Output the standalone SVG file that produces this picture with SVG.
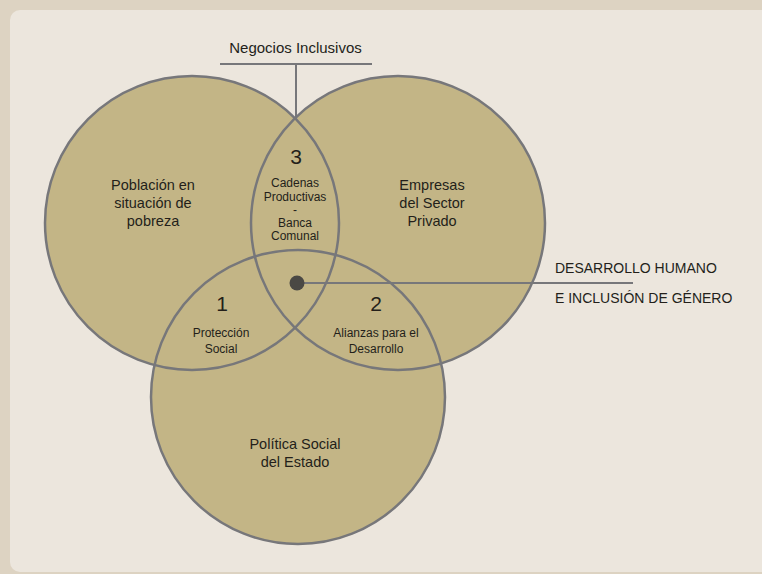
<svg xmlns="http://www.w3.org/2000/svg" width="762" height="574" viewBox="0 0 762 574">
<style>
.t{font-family:"Liberation Sans",Arial,sans-serif;fill:#231f1a;text-anchor:middle}
.big{font-size:14.5px}
.num{font-size:21px}
.sm{font-size:12px}
.ring{fill:none;stroke:#77777a;stroke-width:2.5}
.fill{fill:#c3b586}
.ln{stroke:#77777a;stroke-width:2;fill:none}
</style>
<rect x="0" y="0" width="762" height="574" fill="#ddd3c2"/>
<rect x="10" y="10" width="770" height="562" rx="10" fill="#ece6dd"/>
<g id="fills">
<circle class="fill" cx="192" cy="223" r="147"/>
<circle class="fill" cx="398" cy="223" r="147"/>
<circle class="fill" cx="298" cy="397" r="147"/>
</g>
<g id="node-pobreza">
<circle class="ring" cx="192" cy="223" r="147"/>
<text class="t big" x="153" y="190">Población en</text>
<text class="t big" x="153" y="208">situación de</text>
<text class="t big" x="153" y="226">pobreza</text>
</g>
<g id="node-privado">
<circle class="ring" cx="398" cy="223" r="147"/>
<text class="t big" x="432" y="190">Empresas</text>
<text class="t big" x="432" y="208">del Sector</text>
<text class="t big" x="432" y="226">Privado</text>
</g>
<g id="node-estado">
<circle class="ring" cx="298" cy="397" r="147"/>
<text class="t big" x="295" y="449">Política Social</text>
<text class="t big" x="295" y="467">del Estado</text>
</g>
<g id="intersection-3">
<text class="t num" x="296" y="164">3</text>
<text class="t sm" x="295" y="187">Cadenas</text>
<text class="t sm" x="295" y="200.5">Productivas</text>
<text class="t sm" x="295" y="213.5">-</text>
<text class="t sm" x="295" y="226.5">Banca</text>
<text class="t sm" x="295" y="240">Comunal</text>
</g>
<g id="intersection-1">
<text class="t num" x="222" y="311">1</text>
<text class="t sm" x="221" y="337">Protección</text>
<text class="t sm" x="221" y="353">Social</text>
</g>
<g id="intersection-2">
<text class="t num" x="376" y="311">2</text>
<text class="t sm" x="376" y="337">Alianzas para el</text>
<text class="t sm" x="376" y="353">Desarrollo</text>
</g>
<g id="connectors">
<line class="ln" x1="220" y1="64" x2="372" y2="64"/>
<line class="ln" x1="296" y1="64" x2="296" y2="119"/>
<line class="ln" x1="297" y1="283" x2="633" y2="283"/>
</g>
<g id="node-negocios">
<text class="t" style="font-size:15px" x="295.5" y="53">Negocios Inclusivos</text>
</g>
<g id="node-desarrollo">
<circle cx="297" cy="283" r="7.5" fill="#4a4844"/>
<text class="t" style="font-size:14px;text-anchor:start" x="555" y="273">DESARROLLO HUMANO</text>
<text class="t" style="font-size:14px;text-anchor:start" x="555" y="303">E INCLUSIÓN DE GÉNERO</text>
</g>
</svg>
